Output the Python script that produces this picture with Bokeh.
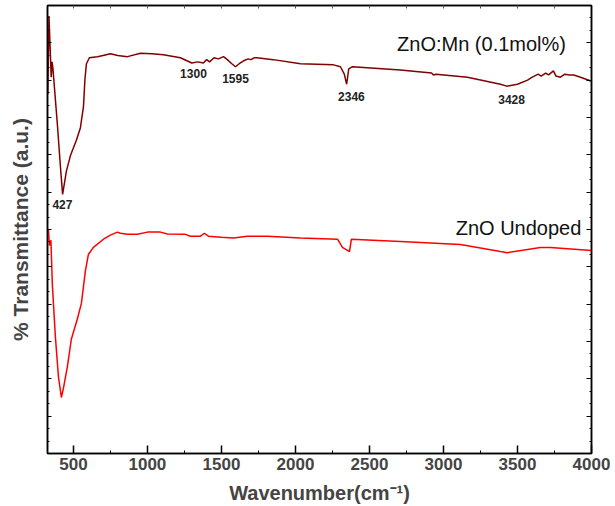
from bokeh.plotting import figure
from bokeh.models import (LinearAxis, Range1d, SingleIntervalTicker, Label,
                          CustomJSTickFormatter)
from bokeh.embed import file_html
from bokeh.resources import INLINE

# ---- data ----
mn_x = [327, 335, 350, 356, 362, 392, 412, 427, 453, 480, 520, 547, 568, 578, 588,
        608, 662, 700, 750, 800, 865, 953, 1030, 1108, 1223, 1300, 1340, 1378, 1400,
        1420, 1450, 1480, 1514, 1540, 1570, 1595, 1620, 1650, 1680, 1700, 1720, 1740,
        1850, 2034, 2257, 2304, 2330, 2346, 2360, 2385, 2709, 2920, 2932, 2950, 3162,
        3385, 3428, 3500, 3568, 3600, 3640, 3660, 3690, 3710, 3743, 3760, 3790, 3820,
        3850, 3880, 3926, 4000]
mn_y = [9.62, 11.72, 10.08, 10.49, 10.30, 8.80, 7.70, 6.94, 7.57, 7.98, 8.39, 8.72, 9.29,
        10.03, 10.44, 10.60, 10.63, 10.66, 10.71, 10.66, 10.63, 10.72, 10.71, 10.68,
        10.60, 10.46, 10.49, 10.46, 10.55, 10.49, 10.60, 10.57, 10.63, 10.55, 10.44,
        10.36, 10.44, 10.52, 10.57, 10.55, 10.60, 10.60, 10.55, 10.44, 10.41, 10.36,
        10.16, 9.89, 10.30, 10.36, 10.27, 10.19, 10.14, 10.16, 10.08, 9.89, 9.84, 9.89,
        10.00, 10.08, 10.16, 10.11, 10.19, 10.14, 10.25, 10.11, 10.08, 10.16, 10.14,
        10.14, 10.08, 9.97]

und_x = [331, 338, 348, 358, 378, 399, 419, 434, 459, 486, 527, 554, 581, 601, 635, 703,
         750, 797, 818, 865, 932, 1000, 1088, 1135, 1257, 1291, 1358, 1385, 1412, 1500,
         1581, 1676, 1811, 2034, 2284, 2318, 2365, 2378, 2709, 3115, 3385, 3432, 3655,
         3723, 4000]
und_y = [6.01, 5.57, 5.71, 4.51, 3.14, 2.05, 1.50, 1.78, 2.32, 3.06, 3.61, 4.02, 4.89,
         5.33, 5.52, 5.74, 5.85, 5.93, 5.90, 5.87, 5.87, 5.93, 5.93, 5.88, 5.87, 5.82,
         5.82, 5.90, 5.82, 5.79, 5.77, 5.82, 5.82, 5.77, 5.74, 5.52, 5.41, 5.74, 5.68,
         5.60, 5.41, 5.38, 5.52, 5.52, 5.44]

peak_labels = ["427", "1300", "1595", "2346", "3428"]
series_names = ["ZnO:Mn (0.1mol%)", "ZnO Undoped"]

FONT = "Liberation Sans"

p = figure(width=610, height=506, output_backend="svg", toolbar_location=None,
           x_range=Range1d(325, 4000), y_range=Range1d(0, 12),
           min_border_left=47, min_border_right=19, min_border_top=5,
           min_border_bottom=40, x_axis_label="Wavenumber(cm\u207b\u00b9)",
           y_axis_label="% Transmittance (a.u.)")
p.grid.visible = False
p.outline_line_color = "black"
p.outline_line_width = 1.5
p.background_fill_color = "white"
p.border_fill_color = "white"

p.line(mn_x, mn_y, line_color="#800000", line_width=1.5)
p.line(und_x, und_y, line_color="#ff0000", line_width=1.5)

# bottom axis
xa = p.xaxis[0]
xa.ticker = SingleIntervalTicker(interval=500, num_minor_ticks=2)
xa.major_tick_in = 8
xa.major_tick_out = 0
xa.minor_tick_in = 3
xa.minor_tick_out = 0
xa.axis_line_width = 1.5
xa.major_tick_line_width = 1.5
xa.major_label_text_font = FONT
xa.major_label_text_font_style = "bold"
xa.major_label_text_font_size = "17px"
xa.major_label_standoff = 4
xa.axis_label_text_font = FONT
xa.axis_label_text_font_style = "bold"
xa.axis_label_text_font_size = "20px"
xa.axis_label_standoff = 9

# left axis
ya = p.yaxis[0]
ya.ticker = SingleIntervalTicker(interval=1, num_minor_ticks=3)
ya.major_tick_in = 4
ya.major_tick_out = 0
ya.minor_tick_in = 2
ya.minor_tick_out = 0
ya.axis_line_width = 1.5
ya.major_label_text_font_size = "0px"
ya.major_label_standoff = 0
ya.formatter = CustomJSTickFormatter(code="return ''")
ya.axis_label_text_font = FONT
ya.axis_label_text_font_style = "bold"
ya.axis_label_text_font_size = "21px"
ya.axis_label_standoff = 16

# top axis
top = LinearAxis(ticker=SingleIntervalTicker(interval=250, num_minor_ticks=0),
                 formatter=CustomJSTickFormatter(code="return ''"),
                 major_label_text_font_size="0px", major_label_standoff=0,
                 major_tick_in=3, major_tick_out=0, minor_tick_in=0, minor_tick_out=0,
                 axis_line_width=1.5, major_tick_line_color="#555555")
p.add_layout(top, "above")

# right axis
right = LinearAxis(ticker=SingleIntervalTicker(interval=1, num_minor_ticks=3),
                   formatter=CustomJSTickFormatter(code="return ''"),
                   major_label_text_font_size="0px", major_label_standoff=0,
                   major_tick_in=5, major_tick_out=0, minor_tick_in=2, minor_tick_out=0,
                   axis_line_width=1.5)
p.add_layout(right, "right")

# peak annotations
peak_pos = [(426, 6.67), (1311, 10.19), (1595, 10.05), (2378, 9.56), (3460, 9.48)]
for txt, (lx, ly) in zip(peak_labels, peak_pos):
    p.add_layout(Label(x=lx, y=ly, text=txt, text_align="center",
                       text_baseline="middle", text_font=FONT,
                       text_font_style="bold", text_font_size="12px",
                       text_color="#222222"))

name_pos = [(3257, 10.98), (3507, 6.04)]
for txt, (lx, ly) in zip(series_names, name_pos):
    p.add_layout(Label(x=lx, y=ly, text=txt, text_align="center",
                       text_baseline="middle", text_font=FONT,
                       text_font_size="20px", text_color="#111111"))

open("out.html", "w").write(file_html(p, INLINE))
